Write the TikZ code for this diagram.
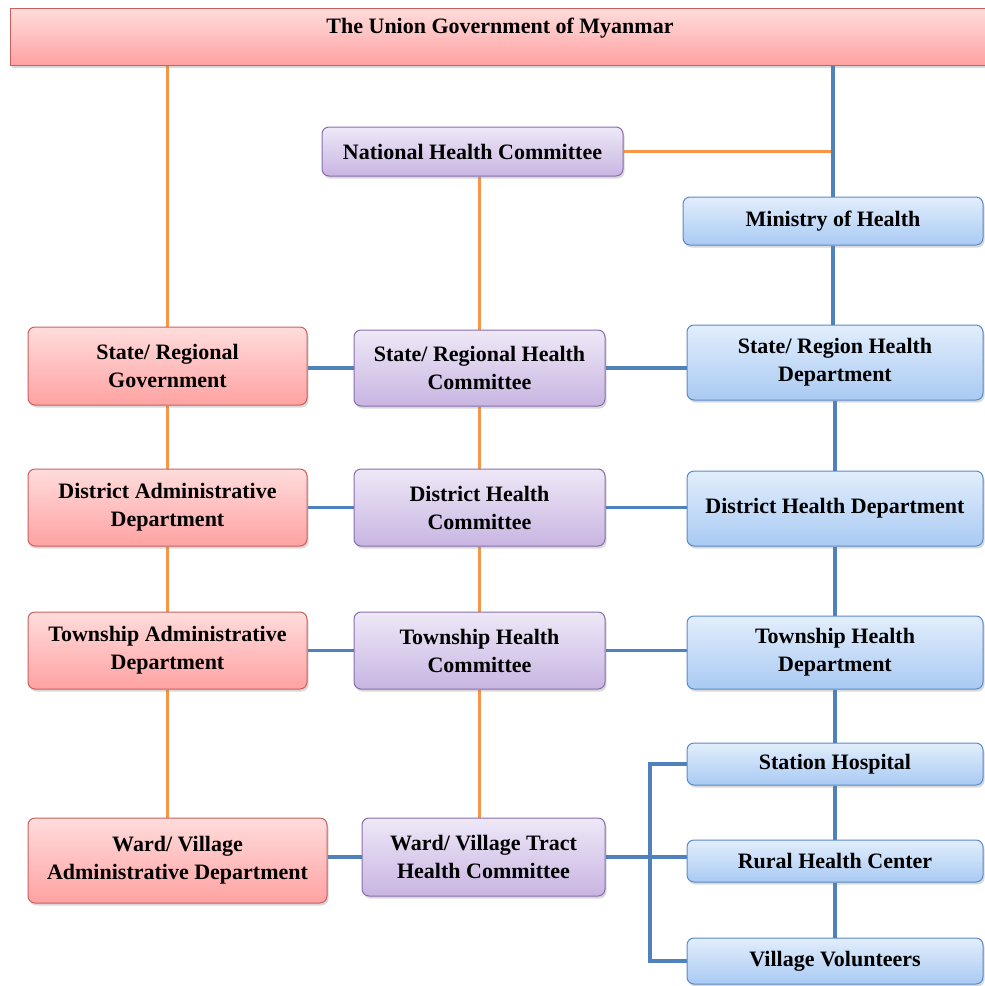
\documentclass[tikz,border=0pt]{standalone}
\usepackage{fontspec}
\setmainfont{Liberation Serif}
\usetikzlibrary{shadows,backgrounds}

\definecolor{govtop}{HTML}{FFDCDC}
\definecolor{govbot}{HTML}{FFA2A2}
\definecolor{govline}{HTML}{C9605C}
\definecolor{comtop}{HTML}{EEE8F7}
\definecolor{combot}{HTML}{C8B5E2}
\definecolor{comline}{HTML}{8A6CAE}
\definecolor{deptop}{HTML}{E2EEFC}
\definecolor{depbot}{HTML}{A9CAF3}
\definecolor{depline}{HTML}{5A8AC8}
\definecolor{linkorange}{HTML}{F79646}
\definecolor{linkblue}{HTML}{4F81BD}

\begin{document}
\begin{tikzpicture}[x=1pt, y=-1pt,
    box/.style={rounded corners=7pt, line width=1pt, align=center, inner sep=2pt,
        font=\fontsize{22}{28}\selectfont\bfseries,
        drop shadow={shadow xshift=1.5pt, shadow yshift=-2.5pt, opacity=0.3}},
    govbox/.style={box, draw=govline, top color=govtop, bottom color=govbot},
    combox/.style={box, draw=comline, top color=comtop, bottom color=combot},
    depbox/.style={box, draw=depline, top color=deptop, bottom color=depbot},
    orangelink/.style={draw=linkorange, line width=3pt},
    bluelink/.style={draw=linkblue, line width=3.5pt}]
    \useasboundingbox (0,0) rectangle (985,986);
    % top bar
    \node[govbox, rounded corners=0pt, minimum width=980pt, minimum height=57pt,
        text height=19pt, text depth=26pt, inner ysep=6pt] (union) at (500,36.5) {The Union Government of Myanmar};
    % government column
    \node[govbox, minimum width=279pt, minimum height=78pt] (stategov) at (167.5,366) {State/ Regional\\Government};
    \node[govbox, minimum width=279pt, minimum height=77pt] (distadm) at (167.5,507.5) {District Administrative\\Department};
    \node[govbox, minimum width=279pt, minimum height=77pt] (townadm) at (167.5,650.5) {Township Administrative\\Department};
    \node[govbox, minimum width=299pt, minimum height=85pt] (wardadm) at (177.5,860.5) {Ward/ Village\\Administrative Department};
    % committee column
    \node[combox, minimum width=301pt, minimum height=49pt] (nhc) at (472.5,151.5) {National Health Committee};
    \node[combox, minimum width=251pt, minimum height=76pt] (shc) at (479.5,368) {State/ Regional Health\\Committee};
    \node[combox, minimum width=251pt, minimum height=77pt] (dhc) at (479.5,507.5) {District Health\\Committee};
    \node[combox, minimum width=251pt, minimum height=77pt] (thc) at (479.5,650.5) {Township Health\\Committee};
    \node[combox, minimum width=243pt, minimum height=78pt] (whc) at (483.5,857) {Ward/ Village Tract\\Health Committee};
    % health department column
    \node[depbox, minimum width=300pt, minimum height=48pt] (moh) at (833,221) {Ministry of Health};
    \node[depbox, minimum width=296pt, minimum height=75pt] (shd) at (835,362.5) {State/ Region Health\\Department};
    \node[depbox, minimum width=296pt, minimum height=75pt] (dhd) at (835,508.5) {District Health Department};
    \node[depbox, minimum width=296pt, minimum height=73pt] (thd) at (835,652.5) {Township Health\\Department};
    \node[depbox, minimum width=296pt, minimum height=42pt] (sh) at (835,764) {Station Hospital};
    \node[depbox, minimum width=296pt, minimum height=42pt] (rhc) at (835,861) {Rural Health Center};
    \node[depbox, minimum width=296pt, minimum height=46pt] (vv) at (835,961) {Village Volunteers};
    \coordinate (brk) at (650,861);
    % links
    \begin{scope}[on background layer]
        \draw[orangelink] (union.south -| stategov.north) -- (stategov.north);
        \draw[orangelink] (stategov.south) -- (distadm.north);
        \draw[orangelink] (distadm.south) -- (townadm.north);
        \draw[orangelink] (townadm.south) -- (townadm.south |- wardadm.north);
        \draw[orangelink] (nhc.south -| shc.north) -- (shc.north);
        \draw[orangelink] (shc.south) -- (dhc.north);
        \draw[orangelink] (dhc.south) -- (thc.north);
        \draw[orangelink] (thc.south) -- (thc.south |- whc.north);
        \draw[orangelink] (nhc.east) -- (nhc.east -| moh.north);
        \draw[bluelink] (union.south -| moh.north) -- (moh.north);
        \draw[bluelink] (moh.south) -- (moh.south |- shd.north);
        \draw[bluelink] (shd.south) -- (dhd.north);
        \draw[bluelink] (dhd.south) -- (thd.north);
        \draw[bluelink] (thd.south) -- (sh.north);
        \draw[bluelink] (sh.south) -- (rhc.north);
        \draw[bluelink] (rhc.south) -- (vv.north);
        \draw[bluelink] (shc.west -| stategov.east) -- (shc.west);
        \draw[bluelink] (shc.east) -- (shc.east -| shd.west);
        \draw[bluelink] (distadm.east) -- (dhc.west);
        \draw[bluelink] (dhc.east) -- (dhc.east -| dhd.west);
        \draw[bluelink] (townadm.east) -- (thc.west);
        \draw[bluelink] (thc.east) -- (thc.east -| thd.west);
        \draw[bluelink] (whc.west -| wardadm.east) -- (whc.west);
        \draw[bluelink] (whc.east) -- (whc.east -| rhc.west);
        \draw[bluelink] (sh.west) -| (brk) |- (vv.west);
    \end{scope}
\end{tikzpicture}
\end{document}
